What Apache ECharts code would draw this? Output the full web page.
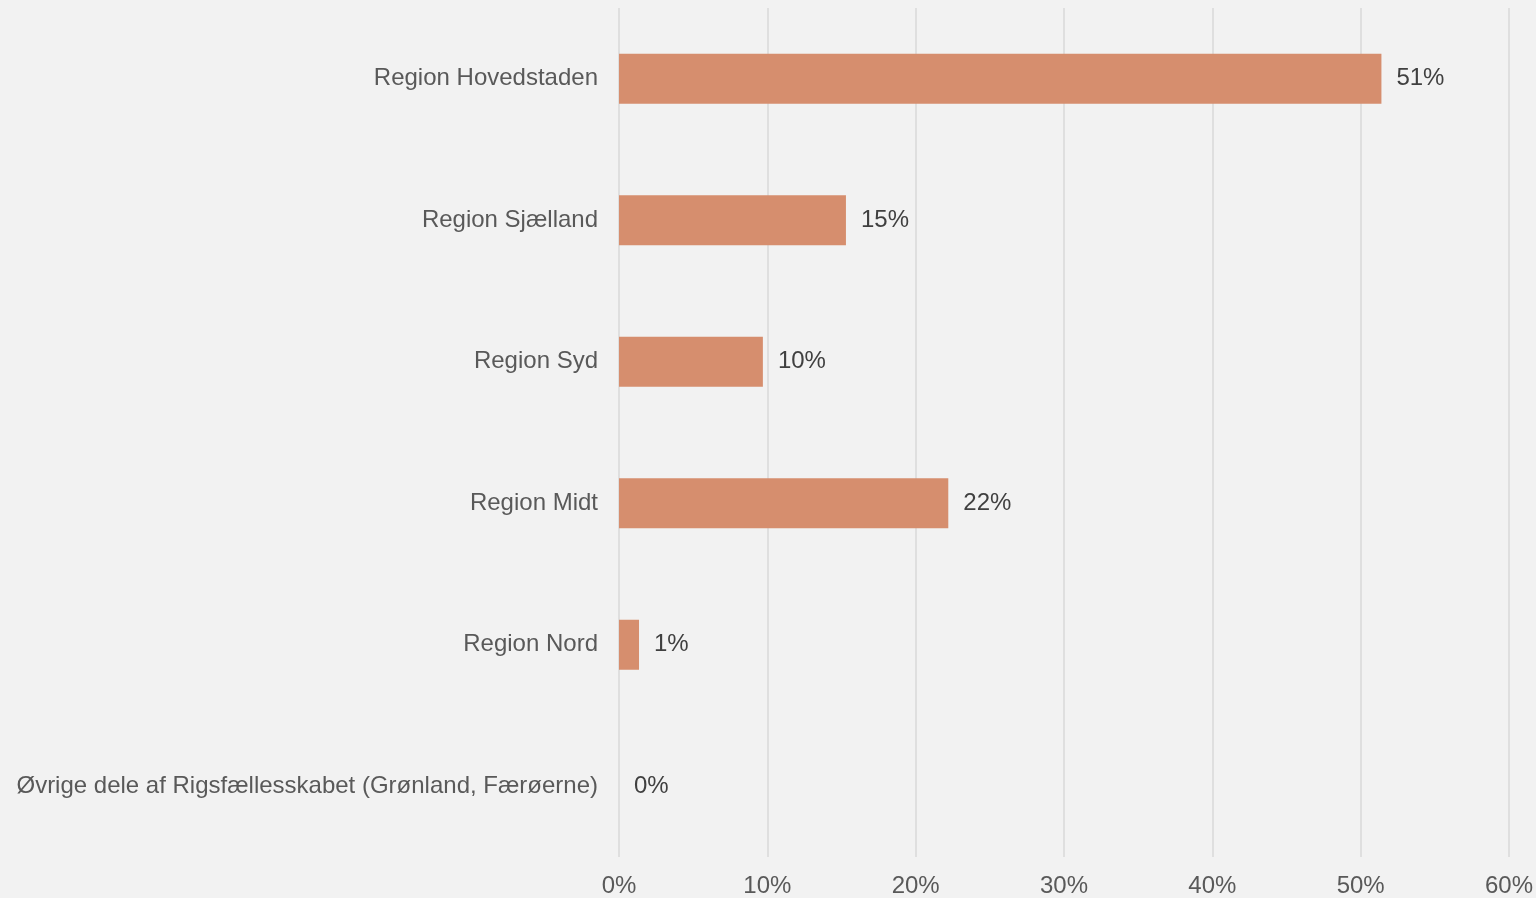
<!DOCTYPE html>
<html>
<head>
<meta charset="utf-8">
<script src="https://cdn.jsdelivr.net/npm/echarts@6/dist/echarts.min.js"></script>
<style>
  html, body { margin: 0; padding: 0; background: #f2f2f2; }
  #chart { width: 1536px; height: 898px; }
</style>
</head>
<body>
<div id="chart"></div>
<script>
// Regions, listed top to bottom
const regions = [
  'Region Hovedstaden',
  'Region Sjælland',
  'Region Syd',
  'Region Midt',
  'Region Nord',
  'Øvrige dele af Rigsfællesskabet (Grønland, Færøerne)'
];
// Share per region, in percent
const shares = [51.4, 15.3, 9.7, 22.2, 1.35, 0];
// Value axis ticks
const xTicks = [0, 10, 20, 30, 40, 50, 60];

const chart = echarts.init(document.getElementById('chart'));
chart.setOption({
  backgroundColor: '#f2f2f2',
  textStyle: { fontFamily: 'Liberation Sans, Arial, sans-serif' },
  grid: { left: 619, right: 24, top: 8, bottom: 40, containLabel: false },
  xAxis: {
    type: 'value',
    min: xTicks[0],
    max: xTicks[xTicks.length - 1],
    interval: 10,
    axisLine: { show: false },
    axisTick: { show: false },
    splitLine: { show: true, lineStyle: { color: '#d9d9d9', width: 1.5 } },
    axisLabel: {
      color: '#595959',
      fontSize: 24,
      margin: 17,
      formatter: v => v + '%'
    }
  },
  yAxis: {
    type: 'category',
    inverse: true,
    data: regions,
    axisLine: { show: false },
    axisTick: { show: false },
    axisLabel: { color: '#595959', fontSize: 24, margin: 21, padding: [2, 0, 0, 0] }
  },
  series: [{
    type: 'bar',
    data: shares,
    barWidth: 50,
    itemStyle: { color: '#d68e6e' },
    label: {
      show: true,
      position: 'right',
      distance: 15,
      color: '#404040',
      fontSize: 24,
      padding: [3, 0, 0, 0],
      formatter: p => Math.round(p.value) + '%'
    },
    silent: true
  }],
  animation: false
});
</script>
</body>
</html>
